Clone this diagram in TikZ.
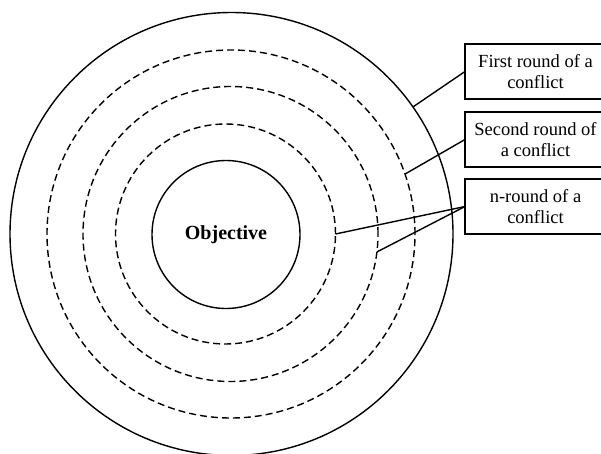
\documentclass[tikz,border=0pt]{standalone}
\usepackage{fontspec}
\setmainfont{Liberation Serif}
\begin{document}
\begin{tikzpicture}[
    x=1pt, y=-1pt,
    disc/.style={draw, circle, line width=1.4pt, inner sep=0pt, outer sep=0pt},
    ring/.style={disc, dash pattern=on 7pt off 4pt},
    roundbox/.style={draw, rectangle, line width=1.4pt, minimum width=141pt, minimum height=55pt,
      align=center, inner sep=0pt, outer sep=0pt, font=\fontsize{18.5}{21.5}\selectfont},
    link/.style={line width=1.4pt}
  ]
  \clip (0,0) rectangle (601,454);

  % Circles
  \node[disc, minimum size=443pt] (outer) at (231.5,234) {};
  \node[ring, minimum size=368pt] (ring1) at (231,234) {};
  \node[ring, minimum size=295pt] (ring2) at (230.5,234) {};
  \node[ring, minimum size=220pt] (ring3) at (225.5,234) {};
  \node[disc, minimum size=148pt, font=\fontsize{20}{24}\selectfont\bfseries] (goal) at (226,234.5) {Objective};

  % Boxes
  \node[roundbox] (first) at (535.5,71.5) {First round of a\\conflict};
  \node[roundbox] (second) at (535.5,139.5) {Second round of\\a conflict};
  \node[roundbox] (nth) at (535.5,206.5) {n-round of a\\conflict};

  % Links
  \draw[link] (first.west) -- (outer.35);
  \draw[link] (second.west) -- (ring1.19);
  \draw[link] (nth.west) -- (ring3.0);
  \draw[link] (nth.west) -- (ring2.-7);
\end{tikzpicture}
\end{document}
